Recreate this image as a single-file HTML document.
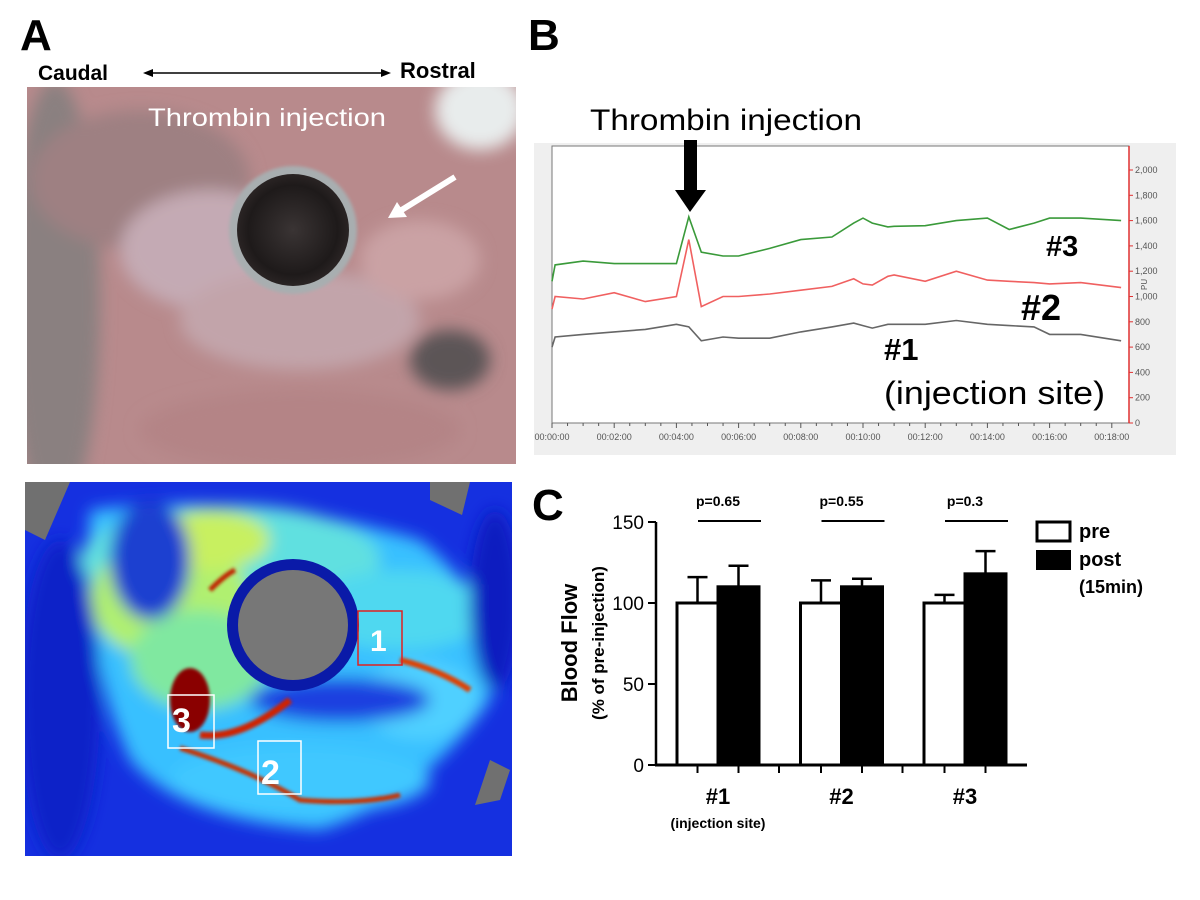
<!DOCTYPE html>
<html><head><meta charset="utf-8">
<style>
html,body{margin:0;padding:0;background:#fff;}
body{width:1200px;height:900px;position:relative;overflow:hidden;font-family:"Liberation Sans",sans-serif;}
svg{position:absolute;left:0;top:0;}
</style></head>
<body>
<svg id="fig" width="1200" height="900" viewBox="0 0 1200 900">
<defs>
 <filter id="blur8"><feGaussianBlur stdDeviation="8"/></filter>
 <filter id="blur4"><feGaussianBlur stdDeviation="4"/></filter>
 <filter id="blur2"><feGaussianBlur stdDeviation="1.5"/></filter>
 <clipPath id="clipTop"><rect x="27" y="87" width="489" height="377"/></clipPath>
 <clipPath id="clipBot"><rect x="25" y="482" width="487" height="374"/></clipPath>
 <radialGradient id="pupilG" cx="0.5" cy="0.5" r="0.5">
  <stop offset="0" stop-color="#3a3434"/><stop offset="0.8" stop-color="#1e1a1a"/><stop offset="1" stop-color="#2a2424"/>
 </radialGradient>
</defs>

<text x="20" y="50" font-size="44" font-weight="bold">A</text>
<text x="528" y="50" font-size="44" font-weight="bold">B</text>
<text x="532" y="520" font-size="44" font-weight="bold">C</text>

<g>
 <text x="38" y="80" font-size="21" font-weight="bold">Caudal</text>
 <text x="400" y="78" font-size="22" font-weight="bold">Rostral</text>
 <line x1="150" y1="73" x2="384" y2="73" stroke="#000" stroke-width="1.6"/>
 <path d="M143 73 L153 69 L153 77Z" fill="#000"/>
 <path d="M391 73 L381 69 L381 77Z" fill="#000"/>
</g>

<g clip-path="url(#clipTop)">
 <rect x="27" y="87" width="489" height="377" fill="#b88a8c"/>
 <g filter="url(#blur8)">
  <ellipse cx="55" cy="300" rx="45" ry="220" fill="#8a8080"/>
  <ellipse cx="140" cy="180" rx="110" ry="70" fill="#9e8082"/>
  <ellipse cx="210" cy="250" rx="90" ry="60" fill="#c4aab4"/>
  <ellipse cx="300" cy="320" rx="120" ry="50" fill="#c2a4aa"/>
  <ellipse cx="480" cy="110" rx="45" ry="40" fill="#e8ecec"/>
  <ellipse cx="450" cy="360" rx="40" ry="30" fill="#5c5456"/>
  <ellipse cx="300" cy="430" rx="160" ry="40" fill="#b48486"/>
  <ellipse cx="420" cy="260" rx="60" ry="40" fill="#caa2a4"/>
 </g>
 <circle cx="293" cy="230" r="64" fill="#a8aeb0" filter="url(#blur2)"/>
 <circle cx="293" cy="230" r="56" fill="url(#pupilG)"/>
 <text x="148" y="126" font-size="25" fill="#fff" textLength="238" lengthAdjust="spacingAndGlyphs">Thrombin injection</text>
 <line x1="455" y1="177" x2="400" y2="211" stroke="#fff" stroke-width="6"/>
 <path d="M388 218 L397 202 L407 217Z" fill="#fff"/>
</g>

<g clip-path="url(#clipBot)">
 <rect x="25" y="482" width="487" height="374" fill="#1530e0"/>
 <g filter="url(#blur8)">
  <path d="M90 510 Q250 490 420 540 Q500 600 490 700 Q420 800 320 830 Q180 820 130 760 Q80 650 90 510Z" fill="#38c0ff"/>
  <ellipse cx="230" cy="560" rx="150" ry="55" fill="#60e0e0"/>
  <ellipse cx="170" cy="600" rx="80" ry="60" fill="#b0f070"/>
  <ellipse cx="210" cy="540" rx="60" ry="30" fill="#c8f060"/>
  <ellipse cx="200" cy="660" rx="70" ry="50" fill="#80e8a0"/>
  <ellipse cx="400" cy="610" rx="90" ry="40" fill="#50d8f0"/>
  <ellipse cx="420" cy="700" rx="60" ry="40" fill="#50d0ff"/>
  <ellipse cx="300" cy="780" rx="130" ry="35" fill="#40c8ff"/>
  <ellipse cx="340" cy="700" rx="90" ry="22" fill="#1a40e0"/>
  <ellipse cx="60" cy="700" rx="40" ry="160" fill="#1020c8"/>
  <ellipse cx="495" cy="600" rx="25" ry="90" fill="#0c1ec0"/>
  <ellipse cx="150" cy="560" rx="40" ry="60" fill="#1a40d0"/>
 </g>
 <g filter="url(#blur2)">
  <ellipse cx="190" cy="700" rx="20" ry="32" fill="#8a0000"/>
  <path d="M200 735 Q240 740 290 700" stroke="#d02000" stroke-width="7" fill="none"/>
  <path d="M180 748 Q250 770 300 800 Q360 805 400 795" stroke="#c83000" stroke-width="5" fill="none"/>
  <path d="M400 660 Q440 670 470 690" stroke="#e04000" stroke-width="6" fill="none"/>
  <path d="M210 590 Q225 575 235 570" stroke="#c02000" stroke-width="5" fill="none"/>
 </g>
 <path d="M25 482 L70 482 L45 540 L25 530Z" fill="#707070"/>
 <path d="M430 482 L470 482 L462 515 L430 500Z" fill="#707070"/>
 <path d="M490 760 L510 770 L500 800 L475 805Z" fill="#707070"/>
 <circle cx="293" cy="625" r="66" fill="#0a1aa8"/>
 <circle cx="293" cy="625" r="55" fill="#777"/>
 <rect x="358" y="611" width="44" height="54" fill="none" stroke="#e02020" stroke-width="1.5"/>
 <rect x="168" y="695" width="46" height="53" fill="none" stroke="#fff" stroke-width="1.5"/>
 <rect x="258" y="741" width="43" height="53" fill="none" stroke="#fff" stroke-width="1.5"/>
 <text x="370" y="651" font-size="30" font-weight="bold" fill="#fff">1</text>
 <text x="172" y="732" font-size="34" font-weight="bold" fill="#fff">3</text>
 <text x="261" y="784" font-size="34" font-weight="bold" fill="#fff">2</text>
</g>

<g id="panelB">
 <rect x="534" y="143" width="642" height="312" fill="#efefef"/>
 <rect x="552" y="146" width="577" height="277" fill="#fff" stroke="#777" stroke-width="1"/>
 <line x1="1129" y1="146" x2="1129" y2="423" stroke="#e03030" stroke-width="1.5"/>
 <g id="bYTicks"></g>
 <g id="bXTicks"></g>
 <g id="bSeries"></g>
 <text x="1141" y="290" font-size="8" fill="#555" transform="rotate(-90 1144 287)">PU</text>
 <text x="590" y="130" font-size="30" textLength="272" lengthAdjust="spacingAndGlyphs">Thrombin injection</text>
 <rect x="684" y="140" width="13" height="52" fill="#000"/>
 <path d="M675 190 L706 190 L690 212Z" fill="#000"/>
 <text x="1046" y="256" font-size="29" font-weight="bold">#3</text>
 <text x="1021" y="320" font-size="36" font-weight="bold">#2</text>
 <text x="884" y="360" font-size="31" font-weight="bold">#1</text>
 <text x="884" y="404" font-size="32" textLength="221" lengthAdjust="spacingAndGlyphs">(injection site)</text>
</g>

<g id="panelC">
 <g id="cBars"></g>
 <g id="cAxes"></g>
 <text transform="translate(577 643) rotate(-90)" text-anchor="middle" font-size="22" font-weight="bold">Blood Flow</text>
 <text transform="translate(604 643) rotate(-90)" text-anchor="middle" font-size="17" font-weight="bold">(% of pre-injection)</text>
 <rect x="1037" y="522" width="33" height="19" fill="#fff" stroke="#000" stroke-width="3"/>
 <text x="1079" y="538" font-size="20" font-weight="bold">pre</text>
 <rect x="1036" y="550" width="35" height="20" fill="#000"/>
 <text x="1079" y="566" font-size="20" font-weight="bold">post</text>
 <text x="1079" y="593" font-size="18" font-weight="bold">(15min)</text>
</g>
</svg>

<script>
const traceTimes = [0,0.1,1,2,3,4,4.4,4.8,5.5,6,7,8,9,9.7,10,10.3,10.8,11,12,13,14,14.7,15.5,16,17,18.3];
const trace3 = [1120,1250,1280,1260,1260,1260,1630,1350,1320,1320,1380,1450,1470,1580,1620,1580,1550,1555,1560,1600,1620,1530,1580,1620,1620,1600];
const trace2 = [900,1000,980,1030,960,1000,1450,920,1000,1000,1020,1050,1080,1140,1100,1090,1160,1170,1120,1200,1130,1120,1110,1100,1110,1070];
const trace1 = [600,680,700,720,740,780,760,650,680,670,670,720,760,790,770,750,780,780,780,810,780,770,760,700,700,650];
const puTicks = [0,200,400,600,800,1000,1200,1400,1600,1800,2000];
const timeTicks = [0,2,4,6,8,10,12,14,16,18];
const timeLabels = ["00:00:00","00:02:00","00:04:00","00:06:00","00:08:00","00:10:00","00:12:00","00:14:00","00:16:00","00:18:00"];

const sites = ["#1","#2","#3"];
const preVals = [100,100,100];
const preErr = [16,14,5];
const postVals = [110,110,118];
const postErr = [13,5,14];
const pLabels = ["p=0.65","p=0.55","p=0.3"];
const flowTicks = [0,50,100,150];

const NS="http://www.w3.org/2000/svg";
function mk(tag, attrs, parent){const e=document.createElementNS(NS,tag);for(const k in attrs)e.setAttribute(k,attrs[k]);parent.appendChild(e);return e;}

const bx = t => 552 + t*31.1;
const by = v => 423 - v*(253/2000);
const yT=document.getElementById('bYTicks');
puTicks.forEach(v=>{
 const l=mk('line',{x1:1129,x2:1133,y1:by(v),y2:by(v),stroke:'#e03030'},yT);
 
 
 const t=mk('text',{x:1135,y:by(v)+3,'font-size':9,fill:'#555'},yT);
 t.textContent=v.toLocaleString('en-US');
 
 
});
const xT=document.getElementById('bXTicks');
for(let m=0;m<=18;m+=0.5){mk('line',{x1:bx(m),x2:bx(m),y1:423,y2:m%2===0?428:426,stroke:'#555'},xT);}
timeTicks.forEach((m,i)=>{
 const t=mk('text',{x:bx(m),y:440,'font-size':9,fill:'#555','text-anchor':'middle'},xT);
 t.textContent=timeLabels[i];
 
 
});
const sG=document.getElementById('bSeries');
[[trace3,'#3a9a3a','trace-site-3'],[trace2,'#f06060','trace-site-2'],[trace1,'#666','trace-site-1']].forEach(([arr,c,n])=>{
 const d=arr.map((v,i)=>(i?'L':'M')+bx(traceTimes[i]).toFixed(1)+' '+by(v).toFixed(1)).join(' ');
 const p=mk('path',{d:d,fill:'none',stroke:c,'stroke-width':1.6},sG);
 
 
});

const cy = v => 765 - v*(243/150);
const groupX = i => 677 + i*123.5;
const bw = 41;
const cB=document.getElementById('cBars');
sites.forEach((s,i)=>{
 const x0=groupX(i);
 mk('line',{x1:x0+bw/2,x2:x0+bw/2,y1:cy(preVals[i]),y2:cy(preVals[i]+preErr[i]),stroke:'#000','stroke-width':2.5},cB);
 mk('line',{x1:x0+bw/2-10,x2:x0+bw/2+10,y1:cy(preVals[i]+preErr[i]),y2:cy(preVals[i]+preErr[i]),stroke:'#000','stroke-width':2.5},cB);
 mk('line',{x1:x0+bw*1.5,x2:x0+bw*1.5,y1:cy(postVals[i]),y2:cy(postVals[i]+postErr[i]),stroke:'#000','stroke-width':2.5},cB);
 mk('line',{x1:x0+bw*1.5-10,x2:x0+bw*1.5+10,y1:cy(postVals[i]+postErr[i]),y2:cy(postVals[i]+postErr[i]),stroke:'#000','stroke-width':2.5},cB);
 const r1=mk('rect',{x:x0,y:cy(preVals[i]),width:bw,height:cy(0)-cy(preVals[i]),fill:'#fff',stroke:'#000','stroke-width':3},cB);
 
 
 const r2=mk('rect',{x:x0+bw,y:cy(postVals[i]),width:bw,height:cy(0)-cy(postVals[i]),fill:'#000',stroke:'#000','stroke-width':3},cB);
 
 
 const pl=mk('line',{x1:x0+21,x2:x0+84,y1:521,y2:521,stroke:'#000','stroke-width':2},cB);
 
 
 const pt=mk('text',{x:x0+bw,y:506,'font-size':14,'font-weight':'bold','text-anchor':'middle'},cB);
 pt.textContent=pLabels[i];
 
 
 const st=mk('text',{x:x0+bw,y:804,'font-size':22,'font-weight':'bold','text-anchor':'middle'},cB);
 st.textContent=s;
 
 
 [x0+bw/2,x0+bw*1.5].forEach(tx=>mk('line',{x1:tx,x2:tx,y1:765,y2:773,stroke:'#000','stroke-width':2},cB));
 if(i<sites.length-1) mk('line',{x1:x0+bw*2+20,x2:x0+bw*2+20,y1:765,y2:773,stroke:'#000','stroke-width':2},cB);
});
const inj=mk('text',{x:groupX(0)+bw,y:828,'font-size':14,'font-weight':'bold','text-anchor':'middle'},cB);
inj.textContent='(injection site)';


const cA=document.getElementById('cAxes');
const ya=mk('line',{x1:656,x2:656,y1:cy(150),y2:766,stroke:'#000','stroke-width':2.5},cA);


const xa=mk('line',{x1:655,x2:1027,y1:765,y2:765,stroke:'#000','stroke-width':3},cA);


flowTicks.forEach(v=>{
 mk('line',{x1:648,x2:656,y1:cy(v),y2:cy(v),stroke:'#000','stroke-width':2},cA);
 const t=mk('text',{x:644,y:cy(v)+7,'font-size':19,'text-anchor':'end'},cA);
 t.textContent=v;
 
 
});
</script>
</body></html>
